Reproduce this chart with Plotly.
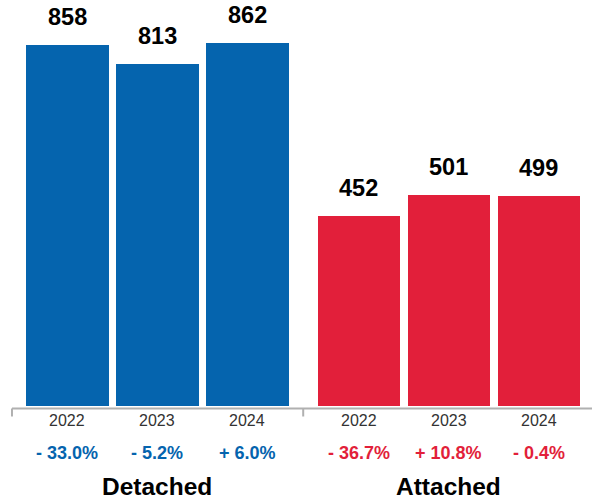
import plotly.graph_objects as go

# Sales by home type, three years each
groups = ["Detached", "Attached"]
years = ["2022", "2023", "2024"]
detached_sales = [858, 813, 862]
attached_sales = [452, 501, 499]
detached_change = ["- 33.0%", "- 5.2%", "+ 6.0%"]
attached_change = ["- 36.7%", "+ 10.8%", "- 0.4%"]

BLUE = "#0564ae"
RED = "#e21f3a"
FONT = "Liberation Sans, Arial, Helvetica, sans-serif"
GROUP_STEP = 3.24  # spacing between the two clusters, in bar units

series = [
    (detached_sales, detached_change, BLUE),
    (attached_sales, attached_change, RED),
]

fig = go.Figure()
annotations = []
for g, (values, changes, color) in enumerate(series):
    xs = [g * GROUP_STEP + i for i in range(len(years))]
    fig.add_trace(go.Bar(
        x=xs, y=values, width=0.92, marker_color=color,
        marker_line_width=0, name=groups[g], showlegend=False,
        hoverinfo="skip",
    ))
    for x, v, yr, ch in zip(xs, values, years, changes):
        # value above each bar
        annotations.append(dict(
            x=x, y=v, xref="x", yref="y", text=f"<b>{v}</b>",
            showarrow=False, yanchor="middle", yshift=28,
            font=dict(family=FONT, size=23.5, color="#000000"),
        ))
        # year under the axis
        annotations.append(dict(
            x=x, y=0, xref="x", yref="paper", text=yr,
            showarrow=False, yanchor="middle", yshift=-14,
            font=dict(family=FONT, size=16, color="#333333"),
        ))
        # year-over-year change
        annotations.append(dict(
            x=x, y=0, xref="x", yref="paper", text=f"<b>{ch}</b>",
            showarrow=False, yanchor="middle", yshift=-47,
            font=dict(family=FONT, size=18, color=color),
        ))
    # cluster name
    annotations.append(dict(
        x=xs[1], y=0, xref="x", yref="paper", text=f"<b>{groups[g]}</b>",
        showarrow=False, yanchor="middle", yshift=-80,
        font=dict(family=FONT, size=24.5, color="#000000"),
    ))

# baseline with separators between clusters
sep_left = -0.617
sep_mid = (2 + GROUP_STEP) / 2
shapes = [
    dict(type="line", xref="x", yref="paper", x0=sep_left, x1=5.83,
         ysizemode="pixel", yanchor=0, y0=-2.5, y1=-2.5,
         line=dict(color="#b0b0b0", width=2)),
]
for sx in (sep_left, sep_mid):
    shapes.append(dict(type="line", xref="x", yref="paper", x0=sx, x1=sx,
                       ysizemode="pixel", yanchor=0, y0=-2.5, y1=-10.5,
                       line=dict(color="#b0b0b0", width=2)))

fig.update_layout(
    width=592, height=501,
    margin=dict(l=0, r=0, t=0, b=95),
    plot_bgcolor="white", paper_bgcolor="white",
    xaxis=dict(range=[-0.75, 5.83], visible=False, fixedrange=True),
    yaxis=dict(range=[0, 965], visible=False, fixedrange=True),
    annotations=annotations, shapes=shapes,
    bargap=0,
)

fig.write_html("out.html")
